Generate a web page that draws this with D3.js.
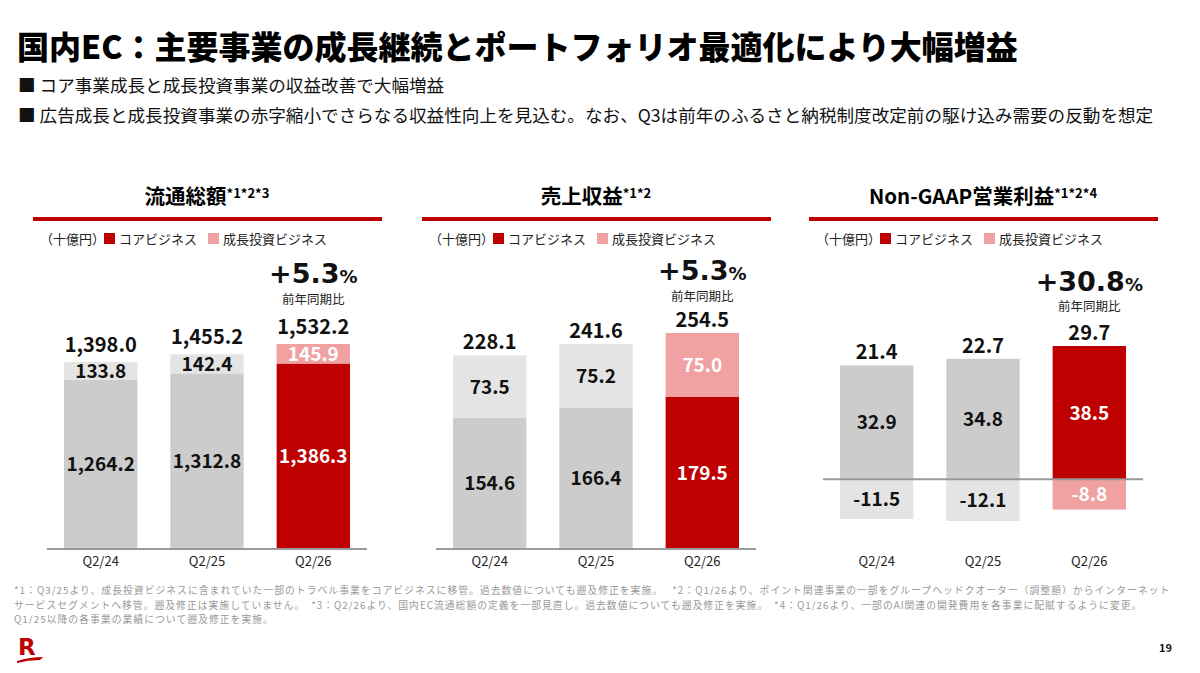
<!DOCTYPE html>
<html>
<head>
<meta charset="utf-8">
<script src="https://cdn.jsdelivr.net/npm/d3@7"></script>
<style>
  body { margin: 0; background: #fff; }
  svg { display: block; font-family: "Noto Sans CJK JP", "Noto Sans", sans-serif; }
</style>
</head>
<body>
<div id="contents"></div>
<script>
// ---- data ----
var categories = ["Q2/24", "Q2/25", "Q2/26"];

var gmsCore   = [1264.2, 1312.8, 1386.3];
var gmsGrowth = [133.8, 142.4, 145.9];
var gmsTotal  = [1398.0, 1455.2, 1532.2];

var revCore   = [154.6, 166.4, 179.5];
var revGrowth = [73.5, 75.2, 75.0];
var revTotal  = [228.1, 241.6, 254.5];

var opCore    = [32.9, 34.8, 38.5];
var opGrowth  = [-11.5, -12.1, -8.8];
var opTotal   = [21.4, 22.7, 29.7];

var panelTitles = ["流通総額", "売上収益", "Non-GAAP営業利益"];
var panelNotes  = ["*1*2*3", "*1*2", "*1*2*4"];
var yoyLabels   = ["+5.3", "+5.3", "+30.8"];

var RED = "#bf0000", PINK = "#f0a1a1", GRAY = "#cccccc", LGRAY = "#e4e4e4";

var width = 1200, height = 673;
var svg = d3.select("#contents").append("svg")
  .attr("width", width).attr("height", height);

// ---- header ----
svg.append("text").attr("x", 17).attr("y", 59)
  .attr("font-size", 32).attr("font-weight", 900).attr("fill", "#000")
  .text("国内EC：主要事業の成長継続とポートフォリオ最適化により大幅増益");

svg.append("text").attr("x", 18).attr("y", 92)
  .attr("font-size", 17.6).attr("fill", "#111")
  .text("■ コア事業成長と成長投資事業の収益改善で大幅増益");
svg.append("text").attr("x", 18).attr("y", 122)
  .attr("font-size", 17.6).attr("fill", "#111")
  .text("■ 広告成長と成長投資事業の赤字縮小でさらなる収益性向上を見込む。なお、Q3は前年のふるさと納税制度改定前の駆け込み需要の反動を想定");

// ---- panels ----
var fmt = d3.formatLocale({ decimal: ".", thousands: ",", grouping: [3], currency: ["", ""], minus: "-" }).format(",.1f");

function drawPanel(opts) {
  var x0 = opts.left, x1 = opts.left + 320;
  var g = svg.append("g");

  var x = d3.scaleBand().domain(categories).range([x0, x1])
    .paddingInner(0.31).paddingOuter(0.16);
  var y = d3.scaleLinear().domain(opts.domain).range(opts.range);

  // title
  var cx = (x0 + x1) / 2;
  var t = g.append("text").attr("x", cx).attr("y", 204)
    .attr("text-anchor", "middle").attr("font-size", 20.5).attr("font-weight", 700)
    .text(panelTitles[opts.i]);
  t.append("tspan").attr("font-size", 13).attr("dy", -6).text(panelNotes[opts.i]);

  g.append("rect").attr("x", x0 - 14).attr("y", 217)
    .attr("width", 320 + 29).attr("height", 4).attr("fill", RED);

  // legend
  var lx = x0 - 7, ly = 244;
  g.append("text").attr("x", lx).attr("y", ly).attr("font-size", 13).attr("fill", "#222").text("（十億円）");
  g.append("rect").attr("x", lx + 64).attr("y", ly - 11).attr("width", 11).attr("height", 11).attr("fill", RED);
  g.append("text").attr("x", lx + 79).attr("y", ly).attr("font-size", 13).attr("fill", "#222").text("コアビジネス");
  g.append("rect").attr("x", lx + 168).attr("y", ly - 11).attr("width", 11).attr("height", 11).attr("fill", PINK);
  g.append("text").attr("x", lx + 183).attr("y", ly).attr("font-size", 13).attr("fill", "#222").text("成長投資ビジネス");

  var rows = categories.map(function(c, k) {
    return { cat: c, core: opts.core[k], growth: opts.growth[k], total: opts.total[k], last: k === categories.length - 1 };
  });

  var bars = g.selectAll(".bar").data(rows).enter().append("g");

  // core segment
  bars.append("rect")
    .attr("x", function(d) { return x(d.cat); })
    .attr("width", x.bandwidth())
    .attr("y", function(d) { return y(d.core); })
    .attr("height", function(d) { return y(0) - y(d.core); })
    .attr("fill", function(d) { return d.last ? RED : GRAY; });

  // growth segment (stacked above core, or below zero when negative)
  bars.append("rect")
    .attr("x", function(d) { return x(d.cat); })
    .attr("width", x.bandwidth())
    .attr("y", function(d) { return d.growth >= 0 ? y(d.core + d.growth) : y(0); })
    .attr("height", function(d) { return d.growth >= 0 ? y(d.core) - y(d.core + d.growth) : y(d.growth) - y(0); })
    .attr("fill", function(d) { return d.last ? PINK : LGRAY; });

  // segment labels
  bars.append("text")
    .attr("x", function(d) { return x(d.cat) + x.bandwidth() / 2; })
    .attr("y", function(d) { return (y(0) + y(d.core)) / 2 + 7; })
    .attr("text-anchor", "middle").attr("font-size", 19).attr("font-weight", 700)
    .attr("fill", function(d) { return d.last ? "#fff" : "#111"; })
    .text(function(d) { return fmt(d.core); });

  bars.append("text")
    .attr("x", function(d) { return x(d.cat) + x.bandwidth() / 2; })
    .attr("y", function(d) {
      return d.growth >= 0 ? (y(d.core) + y(d.core + d.growth)) / 2 + 7 : (y(0) + y(d.growth)) / 2 + 7;
    })
    .attr("text-anchor", "middle").attr("font-size", 19).attr("font-weight", 700)
    .attr("fill", function(d) { return d.last ? "#fff" : "#111"; })
    .text(function(d) { return fmt(d.growth); });

  // totals
  bars.append("text")
    .attr("x", function(d) { return x(d.cat) + x.bandwidth() / 2; })
    .attr("y", function(d) { return y(Math.max(d.core, d.core + d.growth)) - opts.totOff; })
    .attr("text-anchor", "middle").attr("font-size", 20).attr("font-weight", 700).attr("fill", "#111")
    .text(function(d) { return fmt(d.total); });

  // YoY
  var lastRow = rows[rows.length - 1];
  var topY = y(Math.max(lastRow.core, lastRow.core + lastRow.growth));
  var bx = x(lastRow.cat) + x.bandwidth() / 2;
  g.append("text").attr("x", bx).attr("y", topY - opts.noteOff)
    .attr("text-anchor", "middle").attr("font-size", 12.5).attr("fill", "#222").text("前年同期比");
  var yt = g.append("text").attr("x", bx).attr("y", topY - opts.numOff)
    .attr("text-anchor", "middle").attr("font-size", 27).attr("font-weight", 700).attr("fill", "#111")
    .attr("font-family", "\"DejaVu Sans\", sans-serif")
    .text(yoyLabels[opts.i]);
  yt.append("tspan").attr("font-size", 18).text("%");

  // axis line (at zero)
  g.append("line").attr("x1", x0).attr("x2", x1)
    .attr("y1", y(0)).attr("y2", y(0))
    .attr("stroke", "#999").attr("stroke-width", 2);

  // category axis
  var ax = d3.axisBottom(x).tickSize(0).tickPadding(0);
  var axg = g.append("g").attr("transform", "translate(0,566)").call(ax);
  axg.select(".domain").remove();
  axg.selectAll("text").attr("font-size", 13).attr("fill", "#222")
    .attr("font-family", "\"Noto Sans CJK JP\", sans-serif").attr("dy", 0);
}

drawPanel({ i: 0, left: 47,  core: gmsCore, growth: gmsGrowth, total: gmsTotal, domain: [0, 1532.2], range: [549, 344],
            totOff: 10, noteOff: 40, numOff: 61 });
drawPanel({ i: 1, left: 436, core: revCore, growth: revGrowth, total: revTotal, domain: [0, 254.5], range: [549, 333],
            totOff: 6, noteOff: 32, numOff: 53 });
drawPanel({ i: 2, left: 823, core: opCore,  growth: opGrowth,  total: opTotal,  domain: [-12.1, 38.5], range: [521, 346],
            totOff: 6, noteOff: 35, numOff: 55 });

// ---- footnotes ----
var notes = [
  "*1：Q3/25より、成長投資ビジネスに含まれていた一部のトラベル事業をコアビジネスに移管。過去数値についても遡及修正を実施。　 *2：Q1/26より、ポイント関連事業の一部をグループヘッドクオーター（調整額）からインターネット",
  "サービスセグメントへ移管。遡及修正は実施していません。　*3：Q2/26より、国内EC流通総額の定義を一部見直し。過去数値についても遡及修正を実施。　*4：Q1/26より、一部のAI関連の開発費用を各事業に配賦するように変更。",
  "Q1/25以降の各事業の業績について遡及修正を実施。"
];
var noteText = svg.selectAll(".note").data(notes).enter().append("text")
  .attr("x", 14).attr("y", function(d, k) { return 594 + k * 14.5; })
  .attr("font-size", 10.9).attr("fill", "#999").text(function(d) { return d; });
// keep the widths of the 10.9px lines, but draw at a smaller size so lines don't collide
noteText.each(function() {
  var w = this.getComputedTextLength();
  d3.select(this).attr("font-size", 9.8).attr("textLength", w).attr("lengthAdjust", "spacing");
});

// ---- logo & page ----
svg.append("text").attr("x", 18).attr("y", 655)
  .attr("font-size", 23).attr("font-weight", 700).attr("fill", RED)
  .attr("font-family", "\"DejaVu Sans\", sans-serif").text("R");
svg.append("path").attr("d", "M17,661 Q30,657 43,657 L40,660 Q28,660 17,663 Z").attr("fill", RED);

svg.append("text").attr("x", 1172).attr("y", 652).attr("text-anchor", "end")
  .attr("font-size", 11).attr("font-weight", 700).attr("fill", "#111").text("19");
</script>
</body>
</html>
